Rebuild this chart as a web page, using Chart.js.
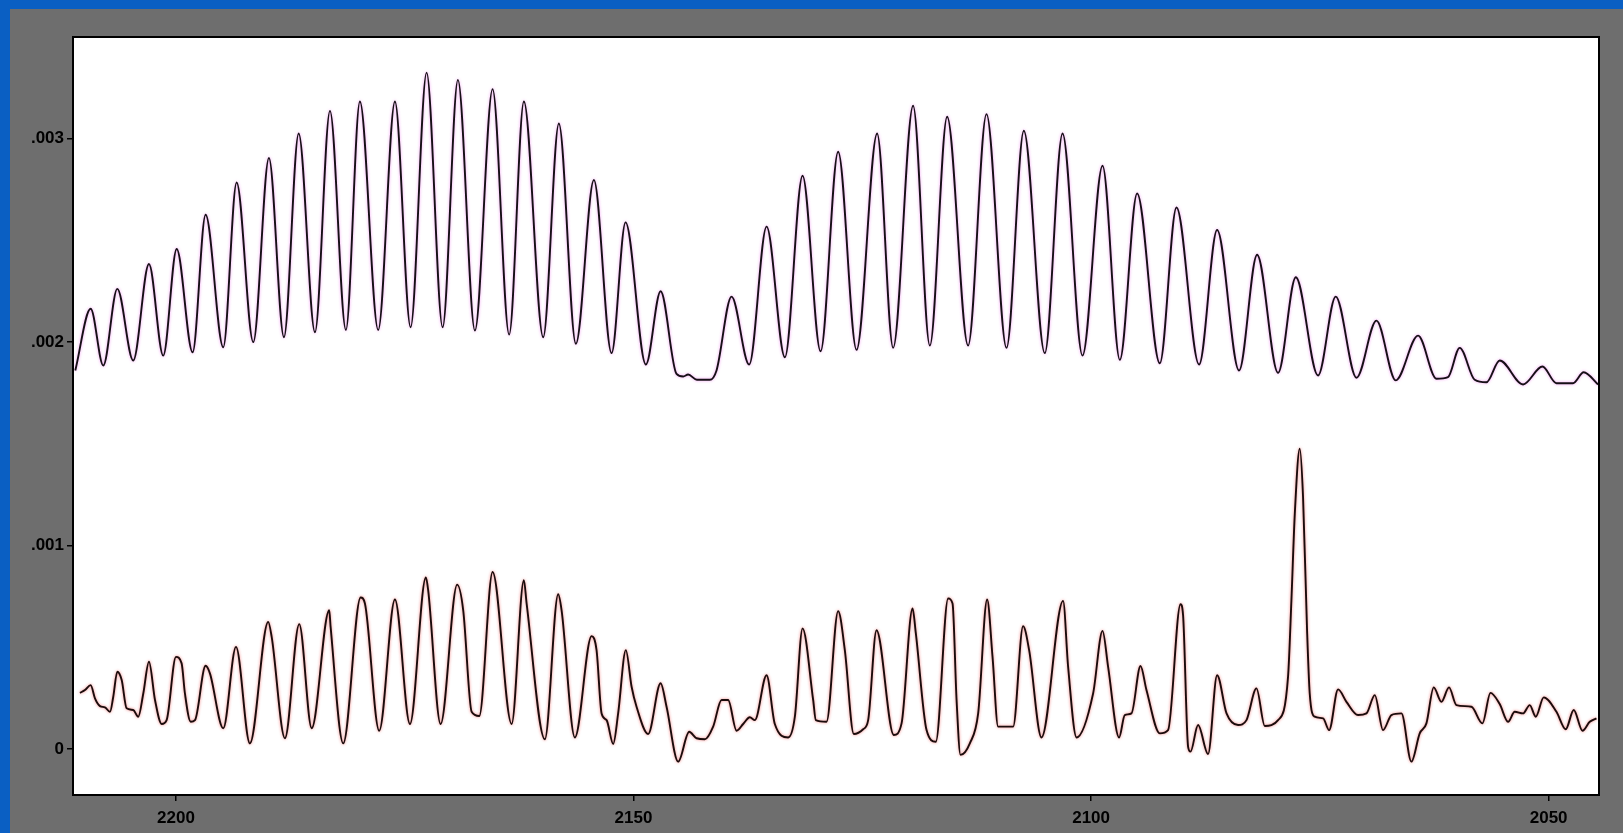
<!DOCTYPE html>
<html>
<head>
<meta charset="utf-8">
<script src="https://cdn.jsdelivr.net/npm/chart.js@4"></script>
<style>
  html, body { margin: 0; padding: 0; width: 1623px; height: 833px; overflow: hidden; background: #0a5fc3; }
  #panel { position: absolute; left: 10px; top: 9px; right: 0; bottom: 0; background: #6e6e6e; }
  #c { position: absolute; left: 0; top: 0; }
</style>
</head>
<body>
<div id="panel"></div>
<canvas id="c" width="1623" height="833"></canvas>
<script>
// x = wavenumber, y = absorbance
const xTicks = [2200, 2150, 2100, 2050];
const yTicks = [0, 0.001, 0.002, 0.003];

const topX = [2211.0, 2209.32, 2207.94, 2206.41, 2204.67, 2202.95, 2201.39, 2199.92, 2198.18, 2196.76,
  2194.83, 2193.37, 2191.55, 2189.84, 2188.20, 2186.59, 2184.81, 2183.17, 2181.43, 2179.90,
  2177.90, 2176.07, 2174.36, 2172.61, 2170.86, 2169.19, 2167.33, 2165.40, 2163.59, 2161.98,
  2159.87, 2158.16, 2156.30, 2154.33, 2152.40, 2150.87, 2148.65, 2147.04, 2145.30, 2144.57,
  2144.03, 2143.08, 2141.66, 2140.93, 2139.29, 2137.36, 2135.46, 2133.46, 2131.53, 2129.56,
  2127.64, 2125.63, 2123.38, 2121.63, 2119.45, 2117.62, 2115.73, 2113.44, 2111.43, 2109.24,
  2107.35, 2105.06, 2103.12, 2100.94, 2098.75, 2096.86, 2094.97, 2092.49, 2090.67, 2088.20,
  2086.23, 2083.83, 2081.86, 2079.57, 2077.63, 2075.20, 2073.27, 2071.00, 2068.82, 2066.71,
  2064.27, 2062.26, 2061.00, 2059.72, 2058.08, 2056.80, 2055.35, 2052.80, 2050.68, 2049.15,
  2047.34, 2046.17, 2044.61];
const topY = [0.001861, 0.002164, 0.001885, 0.002262, 0.001910, 0.002384, 0.001934, 0.002458, 0.001950, 0.002626,
  0.001975, 0.002785, 0.002000, 0.002905, 0.002024, 0.003026, 0.002049, 0.003137, 0.002060, 0.003183,
  0.002060, 0.003183, 0.002073, 0.003325, 0.002073, 0.003289, 0.002057, 0.003244, 0.002037, 0.003183,
  0.002024, 0.003075, 0.001992, 0.002797, 0.001946, 0.002589, 0.001890, 0.002250, 0.001844, 0.001831,
  0.001841, 0.001815, 0.001815, 0.001861, 0.002224, 0.001890, 0.002568, 0.001926, 0.002818, 0.001955,
  0.002936, 0.001962, 0.003026, 0.001972, 0.003162, 0.001983, 0.003108, 0.001983, 0.003121, 0.001972,
  0.003039, 0.001946, 0.003026, 0.001934, 0.002867, 0.001913, 0.002731, 0.001896, 0.002662, 0.001890,
  0.002551, 0.001861, 0.002430, 0.001849, 0.002319, 0.001836, 0.002224, 0.001825, 0.002106, 0.001812,
  0.002032, 0.001820, 0.001828, 0.001972, 0.001815, 0.001803, 0.001910, 0.001792, 0.001880, 0.001798,
  0.001798, 0.001852, 0.001792];

const botX = [2210.49, 2209.94, 2209.32, 2208.85, 2208.30, 2207.76, 2207.21, 2206.85, 2206.41, 2205.93,
  2205.39, 2204.67, 2204.12, 2203.57, 2202.95, 2202.29, 2201.56, 2201.02, 2200.00, 2199.38,
  2199.02, 2198.39, 2197.92, 2196.76, 2196.29, 2194.83, 2193.44, 2191.92, 2189.92, 2189.54,
  2188.09, 2186.53, 2185.17, 2183.25, 2183.10, 2181.72, 2179.82, 2179.35, 2177.79, 2176.07,
  2174.43, 2172.69, 2172.44, 2171.08, 2169.27, 2168.61, 2167.69, 2166.86, 2165.40, 2163.32,
  2161.98, 2161.68, 2159.69, 2158.23, 2157.86, 2156.41, 2154.58, 2154.04, 2153.49, 2152.94,
  2152.22, 2151.68, 2150.84, 2150.21, 2149.67, 2148.40, 2147.04, 2146.39, 2145.12, 2143.92,
  2143.11, 2142.20, 2141.30, 2140.38, 2139.66, 2138.74, 2138.02, 2137.29, 2136.74, 2135.46,
  2134.56, 2133.10, 2132.37, 2131.53, 2130.37, 2130.08, 2128.91, 2127.64, 2126.91, 2125.93,
  2124.91, 2124.36, 2123.45, 2121.56, 2120.71, 2119.51, 2119.15, 2117.98, 2116.97, 2115.62,
  2115.14, 2114.70, 2114.27, 2113.25, 2112.34, 2111.36, 2110.77, 2110.16, 2108.52, 2107.43,
  2106.77, 2105.42, 2103.06, 2102.51, 2101.59, 2099.78, 2098.75, 2098.14, 2096.94, 2096.32,
  2095.59, 2094.60, 2093.95, 2092.49, 2091.59, 2090.23, 2089.95, 2089.40, 2089.14, 2088.31,
  2087.22, 2086.23, 2085.20, 2083.94, 2083.02, 2081.93, 2081.02, 2079.57, 2078.48, 2078.11,
  2077.74, 2077.20, 2076.84, 2076.40, 2076.11, 2075.56, 2074.65, 2073.99, 2073.01, 2072.10,
  2070.83, 2069.91, 2069.00, 2068.10, 2067.18, 2066.09, 2065.00, 2064.09, 2063.36, 2062.56,
  2061.72, 2060.89, 2060.08, 2058.44, 2057.24, 2056.36, 2055.35, 2054.44, 2053.71, 2052.80,
  2052.07, 2051.41, 2050.54, 2049.15, 2048.14, 2047.26, 2046.31, 2045.51, 2044.78];
const botY = [0.000276, 0.000290, 0.000314, 0.000249, 0.000211, 0.000205, 0.000183, 0.000257, 0.000380, 0.000339,
  0.000200, 0.000192, 0.000159, 0.000273, 0.000429, 0.000241, 0.000123, 0.000142, 0.000453, 0.000421,
  0.000273, 0.000134, 0.000142, 0.000409, 0.000372, 0.000102, 0.000502, 0.000028, 0.000625, 0.000551,
  0.000053, 0.000614, 0.000102, 0.000682, 0.000600, 0.000028, 0.000745, 0.000715, 0.000090, 0.000735,
  0.000123, 0.000843, 0.000781, 0.000123, 0.000808, 0.000682, 0.000183, 0.000162, 0.000870, 0.000123,
  0.000830, 0.000715, 0.000048, 0.000761, 0.000682, 0.000057, 0.000555, 0.000486, 0.000175, 0.000142,
  0.000025, 0.000175, 0.000486, 0.000306, 0.000208, 0.000074, 0.000323, 0.000208, -0.000062, 0.000085,
  0.000053, 0.000048, 0.000110, 0.000241, 0.000241, 0.000090, 0.000123, 0.000156, 0.000142, 0.000363,
  0.000123, 0.000057, 0.000159, 0.000593, 0.000241, 0.000142, 0.000134, 0.000678, 0.000486, 0.000074,
  0.000097, 0.000142, 0.000584, 0.000069, 0.000126, 0.000691, 0.000568, 0.000093, 0.000036, 0.000740,
  0.000715, 0.000241, -0.000029, 0.000028, 0.000175, 0.000735, 0.000453, 0.000110, 0.000110, 0.000604,
  0.000486, 0.000057, 0.000728, 0.000404, 0.000057, 0.000273, 0.000581, 0.000404, 0.000057, 0.000167,
  0.000175, 0.000408, 0.000290, 0.000077, 0.000093, 0.000712, 0.000658, 0.000011, -0.000013, 0.000118,
  -0.000025, 0.000363, 0.000175, 0.000118, 0.000142, 0.000298, 0.000113, 0.000142, 0.000355, 0.000732,
  0.001157, 0.001476, 0.001239, 0.000584, 0.000273, 0.000159, 0.000151, 0.000093, 0.000293, 0.000232,
  0.000167, 0.000175, 0.000265, 0.000093, 0.000167, 0.000175, -0.000062, 0.000077, 0.000126, 0.000303,
  0.000232, 0.000303, 0.000216, 0.000208, 0.000126, 0.000276, 0.000221, 0.000134, 0.000183, 0.000175,
  0.000216, 0.000159, 0.000254, 0.000183, 0.000097, 0.000192, 0.000090, 0.000134, 0.000151];

const xMin = 2044.5, xMax = 2211.25;
const yMin = -0.000226, yMax = 0.0035;

const toPts = (xs, ys) => xs.map((x, i) => ({ x: x, y: ys[i] }));

const frame = {
  id: 'frame',
  beforeDraw(chart) {
    const a = chart.chartArea, ctx = chart.ctx;
    ctx.save();
    ctx.fillStyle = '#ffffff';
    ctx.fillRect(a.left, a.top, a.right - a.left, a.bottom - a.top);
    ctx.restore();
  },
  beforeDatasetDraw(chart, args) {
    const ctx = chart.ctx;
    ctx.save();
    ctx.shadowColor = args.index === 0 ? 'rgba(235,80,235,0.6)' : 'rgba(235,40,40,0.6)';
    ctx.shadowBlur = 3;
  },
  afterDatasetDraw(chart) {
    chart.ctx.restore();
  },
  afterDraw(chart) {
    const a = chart.chartArea, ctx = chart.ctx;
    ctx.save();
    ctx.strokeStyle = '#000';
    ctx.lineWidth = 2;
    ctx.strokeRect(a.left, a.top, a.right - a.left, a.bottom - a.top);
    ctx.restore();
  }
};

const tickFont = { family: '"Liberation Sans", Arial, sans-serif', size: 17, weight: 'bold' };

new Chart(document.getElementById('c'), {
  type: 'scatter',
  data: {
    datasets: [
      { data: toPts(topX, topY), showLine: true, borderColor: '#161016', borderWidth: 1.9, pointRadius: 0, cubicInterpolationMode: 'monotone' },
      { data: toPts(botX, botY), showLine: true, borderColor: '#1a0c0c', borderWidth: 1.9, pointRadius: 0, cubicInterpolationMode: 'monotone' }
    ]
  },
  options: {
    responsive: false,
    animation: false,
    layout: { padding: { left: 0, top: 37, right: 24, bottom: 0 } },
    plugins: { legend: { display: false }, tooltip: { enabled: false } },
    scales: {
      x: {
        type: 'linear', reverse: true, min: xMin, max: xMax,
        afterBuildTicks: s => { s.ticks = xTicks.map(v => ({ value: v })); },
        afterFit: s => { s.height = 38; },
        ticks: { font: tickFont, color: '#000', maxRotation: 0, autoSkip: false, padding: 7, callback: v => String(v) },
        grid: { drawOnChartArea: false, drawTicks: true, tickLength: 6, color: '#000', lineWidth: 1.5 },
        border: { display: true, color: '#000', width: 2 }
      },
      y: {
        min: yMin, max: yMax,
        afterBuildTicks: s => { s.ticks = yTicks.map(v => ({ value: v })); },
        afterFit: s => { s.width = 73; },
        ticks: { font: tickFont, color: '#000', padding: 3, callback: v => (v === 0 ? '0' : String(v).replace(/^0/, '')) },
        grid: { drawOnChartArea: false, drawTicks: true, tickLength: 6, color: '#000', lineWidth: 1.5 },
        border: { display: true, color: '#000', width: 2 }
      }
    }
  },
  plugins: [frame]
});
</script>
</body>
</html>
